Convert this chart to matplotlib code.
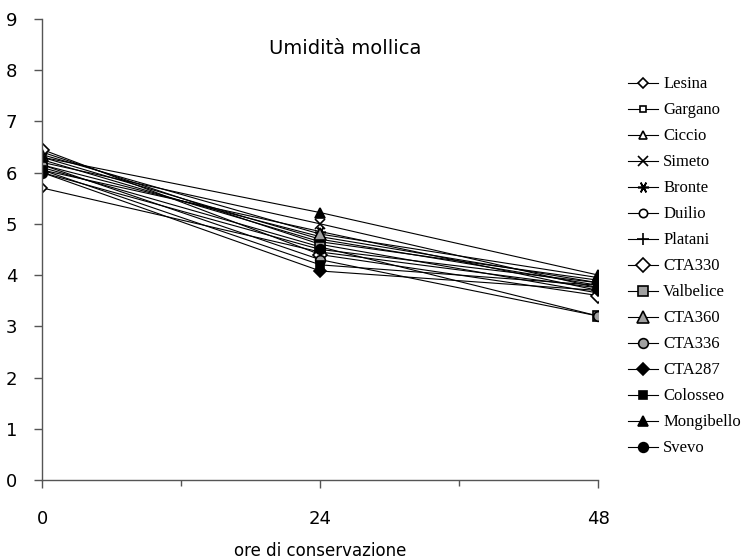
import numpy as np
import matplotlib.pyplot as plt

ore = [0, 24, 48]

varieta = ['Lesina', 'Gargano', 'Ciccio', 'Simeto', 'Bronte', 'Duilio', 'Platani',
           'CTA330', 'Valbelice', 'CTA360', 'CTA336', 'CTA287', 'Colosseo',
           'Mongibello', 'Svevo']

lesina = [5.70, 4.45, 3.75]
gargano = [6.30, 4.70, 3.80]
ciccio = [6.15, 4.75, 3.85]
simeto = [6.20, 5.00, 3.75]
bronte = [6.05, 4.85, 3.70]
duilio = [6.40, 4.60, 3.65]
platani = [6.25, 4.65, 3.90]
cta330 = [6.45, 4.40, 3.60]
valbelice = [6.10, 4.55, 3.20]
cta360 = [6.35, 4.80, 3.95]
cta336 = [6.15, 4.30, 3.20]
cta287 = [6.00, 4.08, 3.70]
colosseo = [6.05, 4.20, 3.80]
mongibello = [6.30, 5.22, 4.00]
svevo = [6.00, 4.50, 3.85]

serie = [lesina, gargano, ciccio, simeto, bronte, duilio, platani, cta330,
         valbelice, cta360, cta336, cta287, colosseo, mongibello, svevo]

# marker, facecolor, size
stili = [
    ('D', 'white', 5),
    ('s', 'white', 5),
    ('^', 'white', 6),
    ('x', 'black', 7),
    ((6, 2, 90), 'black', 8),
    ('o', 'white', 6),
    ('+', 'black', 8),
    ('D', 'white', 7),
    ('s', '#a0a0a0', 7),
    ('^', '#a0a0a0', 8),
    ('o', '#a0a0a0', 7),
    ('D', 'black', 6),
    ('s', 'black', 6),
    ('^', 'black', 7),
    ('o', 'black', 7),
]

fig = plt.figure(figsize=(7.45, 5.6), dpi=100)
ax = fig.add_axes([0.057, 0.143, 0.746, 0.823])

for nome, val, (mk, fc, ms) in zip(varieta, serie, stili):
    ax.plot(ore, val, color='black', lw=0.8, marker=mk, markersize=ms,
            markerfacecolor=fc, markeredgecolor='black', markeredgewidth=1.2,
            label=nome)

ax.set_xlim(0, 48)
ax.set_ylim(0, 9)
ax.set_xticks([0, 24, 48])
ax.set_xticks([12, 36], minor=True)
ax.set_yticks(range(0, 10))
for s in ['top', 'right']:
    ax.spines[s].set_visible(False)
for s in ['left', 'bottom']:
    ax.spines[s].set_color('#555555')
    ax.spines[s].set_linewidth(1.0)
ax.tick_params(axis='y', length=6, width=1, color='#555555', labelsize=13, pad=12)
ax.tick_params(axis='x', which='major', length=6, width=1, color='#555555', labelsize=13, pad=16)
ax.tick_params(axis='x', which='minor', length=4, width=1, color='#555555')
for t in ax.get_xticklabels() + ax.get_yticklabels():
    t.set_family('DejaVu Sans')

ax.set_xlabel('ore di conservazione', fontsize=12, labelpad=10)
ax.text(0.545, 0.935, 'Umidità mollica', transform=ax.transAxes, fontsize=14,
        ha='center', va='center')

leg = ax.legend(loc='upper left', bbox_to_anchor=(1.042, 0.89), frameon=False,
                prop={'family': 'Liberation Serif', 'size': 12},
                handlelength=1.8, handletextpad=0.3, labelspacing=0.6,
                borderaxespad=0)

fig.savefig('out.png', dpi=100)
